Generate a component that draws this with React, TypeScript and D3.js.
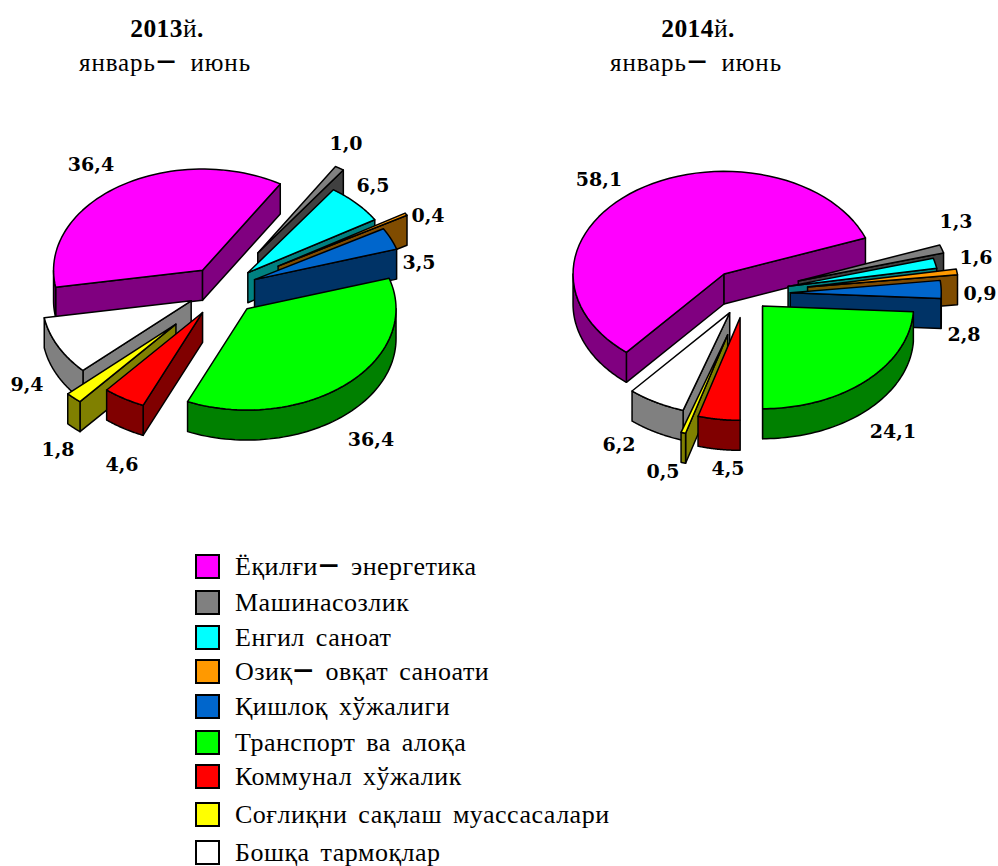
import React from "react";
import * as d3 from "d3";

const legendParts: [string, string][] = [["Ёқилғи","энергетика"],["Машинасозлик",""],["Енгил саноат",""],["Озиқ","овқат саноати"],["Қишлоқ хўжалиги",""],["Транспорт ва алоқа",""],["Коммунал хўжалик",""],["Соғлиқни сақлаш муассасалари",""],["Бошқа тармоқлар",""]];
const topColors = ["#FF00FF","#808080","#00FFFF","#FF9900","#0066CC","#00FF00","#FF0000","#FFFF00","#FFFFFF"];
const sideColors = ["#800080","#404040","#008080","#804C00","#003366","#008000","#800000","#808000","#808080"];
const values2013 = [36.4,1.0,6.5,0.4,3.5,36.4,4.6,1.8,9.4];
const values2014 = [58.1,1.3,1.6,0.9,2.8,24.1,4.5,0.5,6.2];
const labels2013 = ["36,4","1,0","6,5","0,4","3,5","36,4","4,6","1,8","9,4"];
const labels2014 = ["58,1","1,3","1,6","0,9","2,8","24,1","4,5","0,5","6,2"];
const explode2013 = [34,66,36,67,36,38,38,68,34];
const explode2014 = [30,60,48,66,49,31,37,60,32];
const nudge2013: [number,number][] = [[0,0],[0,1],[0,0],[-1,0],[0,0],[0,0],[1,1],[1,1],[0,1]];
const nudge2014: [number,number][] = [[0,0],[0,3],[0,3],[1,3],[0,3],[0,0],[4,2],[4,5],[4,3]];
const labelPos2013: [number,number][] = [[91,165],[346,144],[373,186],[428,216],[419,263],[371,440],[122,465],[58,450],[27,385]];
const labelPos2014: [number,number][] = [[599,180],[956,222],[976,258],[980,294],[964,335],[893,432],[728,469],[663,472],[619,445]];
const drawOrder = [0,1,2,3,4,5,8,7,6];
const legendY = [567,603,638,672,707,743,777,815,853];

const TILT = 0.68, DEPTH = 30;
const rad = (d: number) => d * Math.PI / 180;

function Pie3D({ values, explode, nudge, cx, cy, R, start }: { values: number[]; explode: number[]; nudge: [number,number][]; cx: number; cy: number; R: number; start: number }) {
  const arcs = d3.pie<number>().sort(null).startAngle(rad(start)).endAngle(rad(start) + 2 * Math.PI)(values);
  const r = d3.scaleLinear().domain([0, 1]).range([0, R]);
  const pt = (ox: number, oy: number, a: number, f = 1): [number, number] => [ox + r(f) * Math.sin(a), oy - r(f) * Math.cos(a) * TILT];
  const line = d3.line();
  const sweep = (a0: number, a1: number) => d3.range(0, 61).map(i => a0 + (a1 - a0) * i / 60);
  return <g stroke="#000" strokeWidth={1.5} strokeLinejoin="round">
    {drawOrder.map(i => {
      const s = arcs[i];
      const mid = (s.startAngle + s.endAngle) / 2;
      const e = explode[i] / R;
      const p0 = pt(cx, cy, mid, e);
      const ax = p0[0] + nudge[i][0], ay = p0[1] + nudge[i][1];
      const rim: string[] = [];
      for (const k of [-1, 0, 1]) {
        const lo = Math.max(s.startAngle, Math.PI / 2 + 2 * Math.PI * k);
        const hi = Math.min(s.endAngle, 3 * Math.PI / 2 + 2 * Math.PI * k);
        if (hi > lo) {
          const top = sweep(lo, hi).map(a => pt(ax, ay, a));
          const bot = top.map(([x, y]) => [x, y + DEPTH] as [number, number]).reverse();
          rim.push(line([...top, ...bot])! + "Z");
        }
      }
      const wall = (a: number) => {
        const p = pt(ax, ay, a);
        return line([[ax, ay], p, [p[0], p[1] + DEPTH], [ax, ay + DEPTH]])! + "Z";
      };
      const top = line([[ax, ay], ...sweep(s.startAngle, s.endAngle).map(a => pt(ax, ay, a))])! + "Z";
      return <g key={i}>
        {Math.sin(s.startAngle) < 0 && <path d={wall(s.startAngle)} fill={sideColors[i]} />}
        {Math.sin(s.endAngle) > 0 && <path d={wall(s.endAngle)} fill={sideColors[i]} />}
        {rim.map((d, k) => <path key={k} d={d} fill={sideColors[i]} />)}
        <path d={top} fill={topColors[i]} />
      </g>;
    })}
  </g>;
}

const Dash = () => <tspan fontWeight="bold" fontSize="1.45em" dy="0.09em">−</tspan>;
const Rest = ({ t }: { t: string }) => <tspan dy="-0.13em"> {t}</tspan>;

function Title({ x, year }: { x: number; year: string }) {
  return <g fontFamily="'Liberation Serif', serif" textAnchor="middle" fill="#000">
    <text x={x} y={37} fontSize={25.5} letterSpacing={0.4}><tspan fontWeight="bold">{year}</tspan><tspan>й</tspan><tspan fontWeight="bold">.</tspan></text>
    <text x={x - 2} y={71} fontSize={25} letterSpacing={0.9} wordSpacing={6}>январь<Dash /><Rest t="июнь" /></text>
  </g>;
}

function Labels({ items, pos }: { items: string[]; pos: [number, number][] }) {
  return <g fontFamily="'DejaVu Serif', serif" fontWeight="bold" fontSize={19} textAnchor="middle" fill="#000">
    {items.map((t, i) => <text key={i} x={pos[i][0]} y={pos[i][1] + 6}>{t}</text>)}
  </g>;
}

export default function App() {
  return <svg width={998} height={866} style={{ position: "absolute", left: 0, top: 0 }}>
    <Title x={167} year="2013" />
    <Title x={698} year="2014" />
    <Pie3D values={values2013} explode={explode2013} nudge={nudge2013} cx={221.6} cy={289.5} R={149} start={-99.6} />
    <Pie3D values={values2014} explode={explode2014} nudge={nudge2014} cx={741.3} cy={290.7} R={151} start={-139.7} />
    <Labels items={labels2013} pos={labelPos2013} />
    <Labels items={labels2014} pos={labelPos2014} />
    {legendParts.map(([a, b], i) => <g key={i}>
      <rect x={196} y={legendY[i] - 12} width={23} height={23} fill={topColors[i]} stroke="#000" strokeWidth={2} />
      <text x={235} y={legendY[i] + 8} fontFamily="'Liberation Serif', serif" fontSize={26} letterSpacing={0.5} wordSpacing={4} fill="#000">
        {a}{b && <Dash />}{b && <Rest t={b} />}
      </text>
    </g>)}
  </svg>;
}
